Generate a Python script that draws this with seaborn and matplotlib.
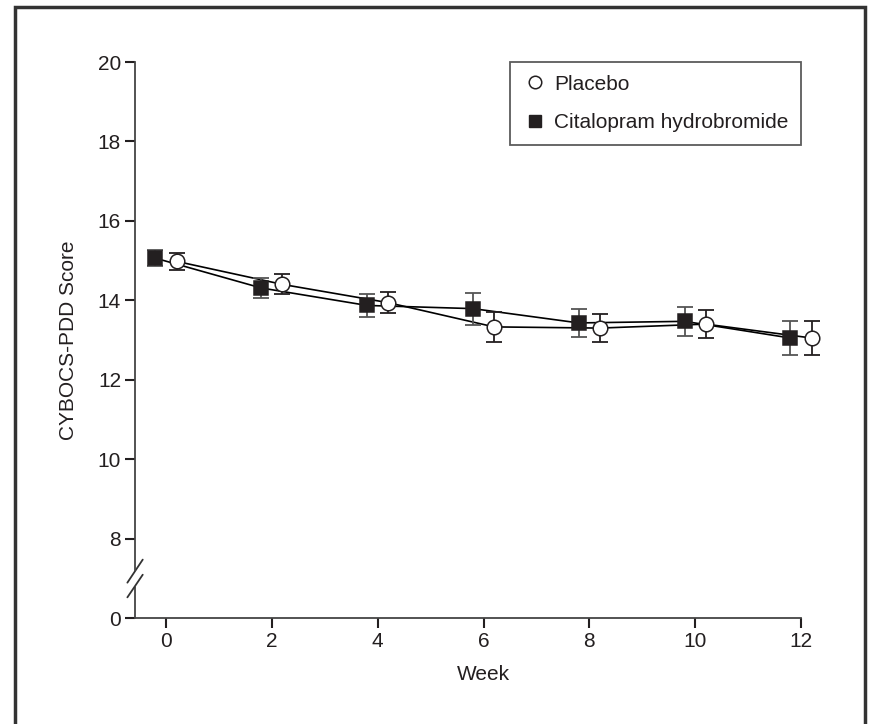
import numpy as np
import pandas as pd
import matplotlib
matplotlib.use("Agg")
import matplotlib.pyplot as plt
import seaborn as sns
from matplotlib.lines import Line2D
from matplotlib.patches import Rectangle

# values
weeks = [0, 2, 4, 6, 8, 10, 12]
placebo = [14.98, 14.40, 13.94, 13.33, 13.30, 13.40, 13.05]
placebo_err = [0.21, 0.25, 0.27, 0.38, 0.35, 0.35, 0.42]
citalopram = [15.06, 14.31, 13.87, 13.79, 13.43, 13.47, 13.05]
citalopram_err = [0.20, 0.25, 0.30, 0.40, 0.36, 0.36, 0.44]

y_ticks = [6, 8, 10, 12, 14, 16, 18, 20]   # 6 is drawn as the broken "0"
y_tick_labels = ["0", "8", "10", "12", "14", "16", "18", "20"]

sns.set_theme(style="ticks")
plt.rcParams["font.family"] = ["Liberation Sans", "DejaVu Sans"]

df = pd.DataFrame({
    "week": np.array(weeks * 2, dtype=float),
    "score": placebo + citalopram,
    "err": placebo_err + citalopram_err,
    "group": ["Placebo"] * 7 + ["Citalopram hydrobromide"] * 7,
})
shift = {"Placebo": 0.2, "Citalopram hydrobromide": -0.2}
df["x"] = df["week"] + df["group"].map(shift)

fig = plt.figure(figsize=(8.71, 7.24), dpi=100)
ax = fig.add_axes([135 / 871, 1 - 618 / 724, 666 / 871, 556 / 724])

sns.lineplot(data=df, x="x", y="score", hue="group",
             palette={"Placebo": "black", "Citalopram hydrobromide": "black"},
             linewidth=1.2, legend=False, ax=ax, zorder=2, clip_on=False)

styles = {
    "Citalopram hydrobromide": dict(marker="s", mfc="#231f20", mec="#231f20", ecolor="#555555"),
    "Placebo": dict(marker="o", mfc="white", mec="#231f20", ecolor="#231f20"),
}
for grp, st in styles.items():
    sub = df[df["group"] == grp]
    ax.errorbar(sub["x"], sub["score"], yerr=sub["err"], fmt="none",
                ecolor=st["ecolor"], elinewidth=1.3, capsize=6, capthick=1.3,
                zorder=3, clip_on=False)
    ax.plot(sub["x"], sub["score"], linestyle="none", marker=st["marker"],
            markersize=10.5, markerfacecolor=st["mfc"], markeredgecolor=st["mec"],
            markeredgewidth=1.1, zorder=4, clip_on=False)

ax.set_xlim(-0.586, 12)
ax.set_ylim(6, 20)
ax.set_xticks(weeks)
ax.set_yticks(y_ticks)
ax.set_yticklabels(y_tick_labels)
ax.tick_params(axis="both", labelsize=15, length=7, width=1.5, color="#231f20",
               labelcolor="#231f20", pad=3)

for s in ["top", "right"]:
    ax.spines[s].set_visible(False)
ax.spines["left"].set_bounds(7.22, 20)
for s in ["left", "bottom"]:
    ax.spines[s].set_linewidth(1.3)
    ax.spines[s].set_color("#444444")
# lower piece of the broken y axis and the break marks
ax.plot([-0.586, -0.586], [6, 6.77], color="#444444", lw=1.3, clip_on=False)
ax.plot([-0.73, -0.44], [6.89, 7.47], color="#333333", lw=1.3, clip_on=False)
ax.plot([-0.73, -0.44], [6.52, 7.09], color="#333333", lw=1.3, clip_on=False)

ax.set_xlabel("Week", fontsize=15, color="#231f20")
ax.set_ylabel("CYBOCS-PDD Score", fontsize=15, color="#231f20")
ax.xaxis.set_label_coords(0.5225, -0.085)
ax.yaxis.set_label_coords(-0.086, 0.5)

handles = [
    Line2D([], [], linestyle="none", marker="o", markersize=9, markerfacecolor="white",
           markeredgecolor="#231f20", markeredgewidth=1.1, label="Placebo"),
    Line2D([], [], linestyle="none", marker="s", markersize=9, markerfacecolor="#231f20",
           markeredgecolor="#231f20", label="Citalopram hydrobromide"),
]
leg = ax.legend(handles=handles, loc="upper right", bbox_to_anchor=(1.0, 1.0),
                fontsize=15, frameon=True, fancybox=False, edgecolor="#333333",
                handletextpad=0.3, handlelength=1.2, borderpad=0.6, labelspacing=0.95,
                borderaxespad=0)
leg.get_frame().set_linewidth(1.3)
for t in leg.get_texts():
    t.set_color("#231f20")

fig.patches.append(Rectangle((15 / 871, -0.05), 850 / 871, 1.05 - 7 / 724,
                             transform=fig.transFigure, fill=False,
                             edgecolor="#333333", linewidth=2.5))

fig.savefig("out.png", dpi=100)
